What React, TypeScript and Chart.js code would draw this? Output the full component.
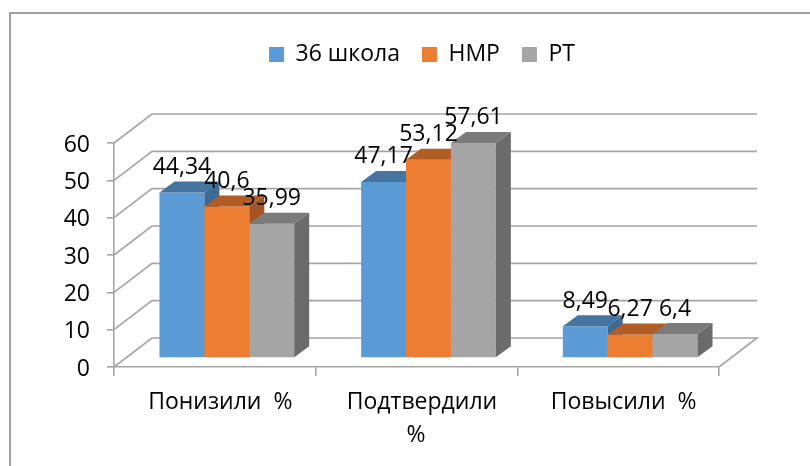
import React, { useEffect, useRef } from "react";
import { Chart, registerables } from "chart.js";

Chart.register(...registerables);

const categories: (string | string[])[] = ["Понизили  %", ["Подтвердили", "%  "], "Повысили  %"];
const seriesNames = ["36 школа", "НМР", "РТ"];
const school36 = [44.34, 47.17, 8.49];
const nmr = [40.6, 53.12, 6.27];
const rt = [35.99, 57.61, 6.4];
const frontColors = ["#5B9BD5", "#ED7D31", "#A5A5A5"];
const topColors = ["#44749F", "#B15D24", "#7B7B7B"];
const sideColors = ["#3C6A93", "#A35622", "#6B6B6B"];

const FONT = "'Open Sans', sans-serif";
const FONT_SIZE = 23;
const GRID = "#A6A6A6";
const TEXT = "#000000";
const WALL = { dx: 38, dy: -29 };
const BAR_SHIFT = { x: 12, y: -9 };
const BAR_DEPTH = { x: 15, y: -11 };

const fmt = (v: number) => String(v).replace(".", ",");

const scene = {
  id: "scene",
  beforeLayout(chart: any) {
    const legend = chart.legend;
    if (legend && !legend.__wrapped) {
      const orig = legend.fit;
      legend.fit = function () {
        orig.call(this);
        this.height = 122;
      };
      legend.__wrapped = true;
    }
  },
  afterLayout(chart: any) {
    if (chart.legend) {
      chart.legend.left += 5.5;
      chart.legend.right += 5.5;
    }
  },
  beforeDraw(chart: any) {
    const { ctx } = chart;
    ctx.save();
    ctx.strokeStyle = "#A0A0A0";
    ctx.lineWidth = 2;
    ctx.beginPath();
    ctx.moveTo(10, 466);
    ctx.lineTo(10, 13);
    ctx.lineTo(810, 13);
    ctx.stroke();
    ctx.restore();
  },
  beforeDatasetsDraw(chart: any) {
    const { ctx, chartArea: a, scales } = chart;
    const y = scales.y;
    ctx.save();
    ctx.strokeStyle = GRID;
    ctx.lineWidth = 1.6;
    ctx.lineJoin = "miter";
    y.ticks.forEach((t: any) => {
      const py = y.getPixelForValue(t.value);
      ctx.beginPath();
      ctx.moveTo(a.left, py);
      ctx.lineTo(a.left + WALL.dx, py + WALL.dy);
      ctx.lineTo(a.right + WALL.dx, py + WALL.dy);
      if (t.value === 0) ctx.lineTo(a.right, py);
      ctx.stroke();
    });
    ctx.restore();
  },
  // The library paints datasets last-to-first; here they must overlap first-to-last.
  beforeDatasetDraw() {
    return false;
  },
  afterDatasetsDraw(chart: any) {
    const { ctx } = chart;
    chart.data.datasets.forEach((_: any, i: number) => {
      const meta = chart.getDatasetMeta(i);
      ctx.save();
      ctx.translate(BAR_SHIFT.x, BAR_SHIFT.y);
      meta.controller.draw();
      meta.data.forEach((el: any) => {
        const p = el.getProps(["x", "y", "base", "width"], true);
        const l = p.x - p.width / 2;
        const r = p.x + p.width / 2;
        ctx.fillStyle = topColors[i];
        ctx.beginPath();
        ctx.moveTo(l, p.y);
        ctx.lineTo(l + BAR_DEPTH.x, p.y + BAR_DEPTH.y);
        ctx.lineTo(r + BAR_DEPTH.x, p.y + BAR_DEPTH.y);
        ctx.lineTo(r, p.y);
        ctx.closePath();
        ctx.fill();
        ctx.fillStyle = sideColors[i];
        ctx.beginPath();
        ctx.moveTo(r, p.y);
        ctx.lineTo(r + BAR_DEPTH.x, p.y + BAR_DEPTH.y);
        ctx.lineTo(r + BAR_DEPTH.x, p.base + BAR_DEPTH.y);
        ctx.lineTo(r, p.base);
        ctx.closePath();
        ctx.fill();
      });
      ctx.restore();
    });
    ctx.save();
    ctx.fillStyle = TEXT;
    ctx.font = `${FONT_SIZE}px ${FONT}`;
    ctx.textAlign = "center";
    ctx.textBaseline = "middle";
    chart.data.datasets.forEach((ds: any, i: number) => {
      chart.getDatasetMeta(i).data.forEach((el: any, j: number) => {
        const p = el.getProps(["x", "y"], true);
        ctx.fillText(fmt(ds.data[j]), p.x + BAR_SHIFT.x, p.y + BAR_SHIFT.y - 25);
      });
    });
    ctx.restore();
  },
};

export default function App() {
  const ref = useRef<HTMLCanvasElement>(null);
  useEffect(() => {
    document.body.style.margin = "0";
    const values = [school36, nmr, rt];
    const chart = new Chart(ref.current!, {
      type: "bar",
      data: {
        labels: categories as any,
        datasets: seriesNames.map((name, i) => ({
          label: name,
          data: values[i],
          backgroundColor: frontColors[i],
          borderWidth: 0,
        })),
      },
      options: {
        responsive: false,
        animation: false,
        datasets: { bar: { barPercentage: 1, categoryPercentage: 0.668 } },
        layout: { padding: { top: 21, right: 91, left: 0, bottom: 0 } },
        plugins: {
          tooltip: { enabled: false },
          legend: {
            position: "top",
            fullSize: false,
            labels: {
              boxWidth: 15,
              boxHeight: 15,
              padding: 22,
              color: TEXT,
              font: { family: FONT, size: FONT_SIZE },
            },
          },
        },
        scales: {
          x: {
            afterFit: (s: any) => { s.height = 99; },
            border: { display: true, color: GRID, width: 1.6 },
            grid: { offset: true, drawOnChartArea: false, color: GRID, lineWidth: 1.6, tickLength: 9 },
            ticks: {
              color: TEXT,
              font: { family: FONT, size: FONT_SIZE, lineHeight: 1.43 },
              padding: 10,
              labelOffset: 5.5,
              maxRotation: 0,
              autoSkip: false,
            },
          },
          y: {
            min: 0,
            max: 60,
            afterFit: (s: any) => { s.width = 114; },
            border: { display: true, color: GRID, width: 1.6 },
            grid: { drawOnChartArea: false, color: GRID, lineWidth: 1.6, tickLength: 7 },
            ticks: {
              stepSize: 10,
              color: TEXT,
              padding: 17,
              labelOffset: 2,
              font: { family: FONT, size: FONT_SIZE },
            },
          },
        },
      },
      plugins: [scene as any],
    });
    return () => chart.destroy();
  }, []);
  return <canvas ref={ref} width={810} height={466} style={{ display: "block" }} />;
}
